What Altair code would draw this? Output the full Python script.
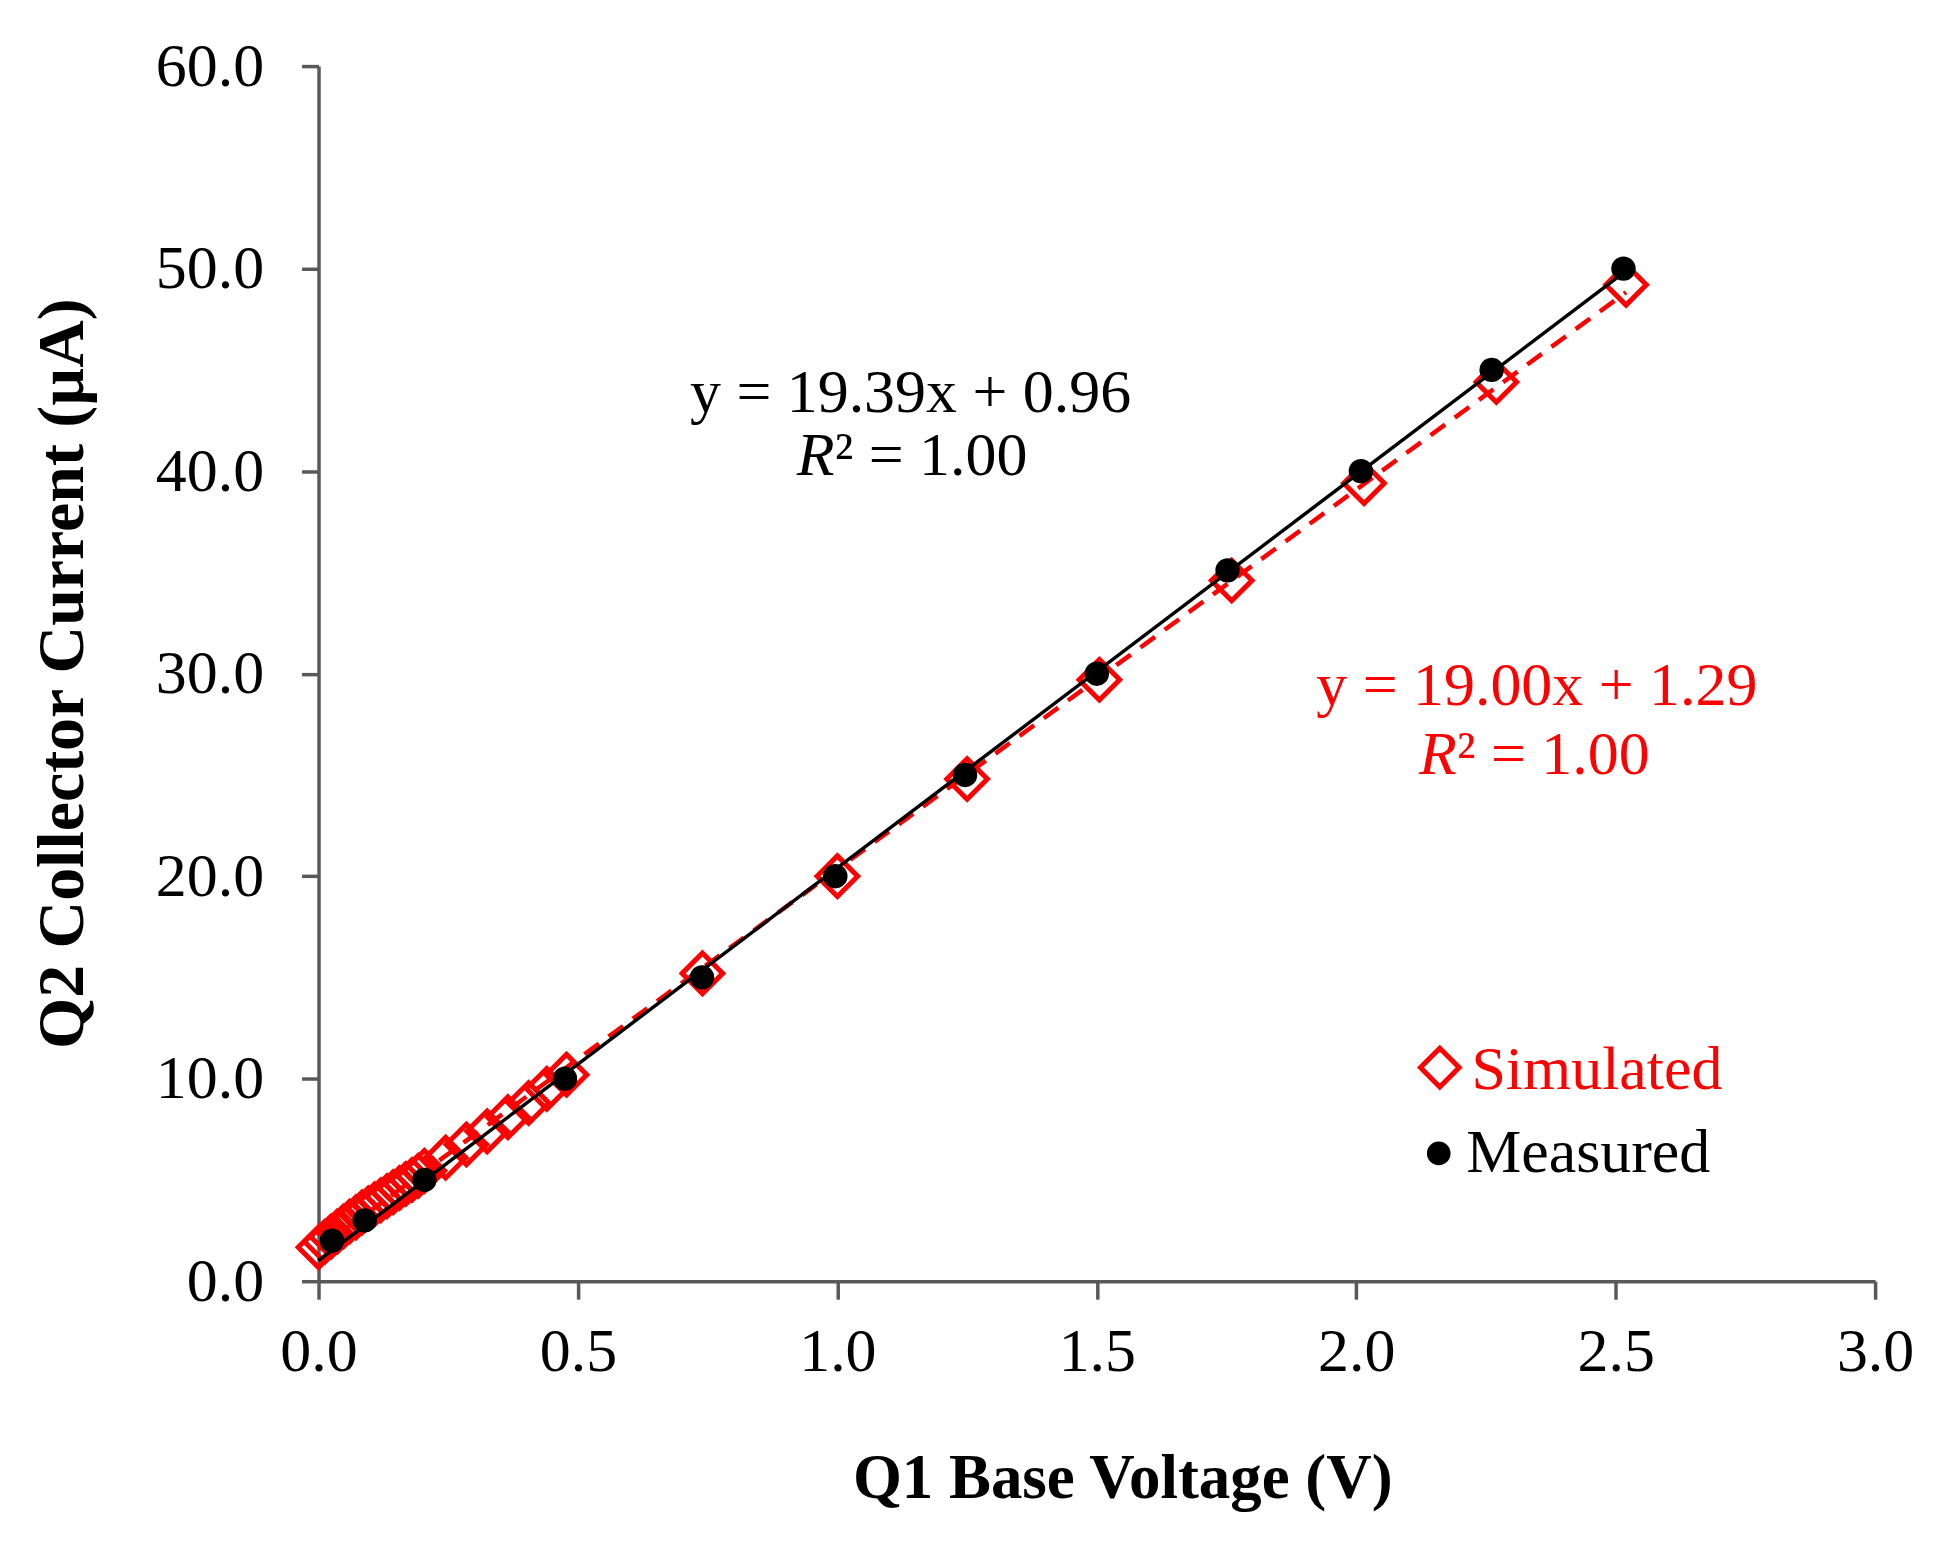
import altair as alt
import pandas as pd

# ---- data ----
meas_v = [0.026, 0.089, 0.204, 0.475, 0.739, 0.996, 1.246, 1.500, 1.752, 2.009, 2.261, 2.515]
meas_i = [2.0, 3.0, 5.0, 10.0, 15.0, 20.0, 25.0, 30.0, 35.1, 40.0, 45.0, 50.0]

sim_v = [0.000, 0.012, 0.024, 0.036, 0.048, 0.060, 0.072, 0.084, 0.096, 0.108,
         0.120, 0.132, 0.144, 0.156, 0.168, 0.180, 0.192, 0.204, 0.245, 0.285,
         0.325, 0.365, 0.405, 0.440, 0.478, 0.740, 1.000, 1.250, 1.505, 1.760,
         2.015, 2.270, 2.520]
sim_i = [1.68, 1.95, 2.20, 2.45, 2.70, 2.95, 3.15, 3.40, 3.60, 3.80,
         4.00, 4.20, 4.40, 4.60, 4.80, 5.00, 5.20, 5.45, 6.10, 6.75,
         7.40, 8.10, 8.80, 9.50, 10.20, 15.20, 20.00, 24.80, 29.70, 34.60,
         39.40, 44.40, 49.20]

x_ticks = [0.0, 0.5, 1.0, 1.5, 2.0, 2.5, 3.0]
y_ticks = [0, 10, 20, 30, 40, 50, 60]

meas_eq = ["y = 19.39x + 0.96"]
sim_eq = ["y = 19.00x + 1.29"]
r2_rest = ["\u00b2 = 1.00"]
legend_labels = ["Simulated", "Measured"]

FONT = "Liberation Serif"
RED = "#FF0000"
AX = "#595959"

meas = pd.DataFrame({"v": meas_v, "i": meas_i})
sim = pd.DataFrame({"v": sim_v, "i": sim_i})

xs = alt.Scale(domain=[0, 3], nice=False)
ys = alt.Scale(domain=[0, 60], nice=False)

xaxis = alt.Axis(values=x_ticks, format=".1f", title="Q1 Base Voltage (V)", grid=False,
                 domainColor=AX, domainWidth=3.5, tickColor=AX, tickWidth=3.5, tickSize=18,
                 labelFont=FONT, labelFontSize=62, labelColor="#000", labelPadding=22,
                 labelFlush=False, labelOverlap=False,
                 titleFont=FONT, titleFontSize=63, titleFontWeight="bold", titleColor="#000",
                 titleX=805, titleY=217, titleBaseline="alphabetic", titleAlign="center")
yaxis = alt.Axis(values=y_ticks, format=".1f", title="Q2 Collector Current (\u00b5A)", grid=False,
                 domainColor=AX, domainWidth=3.5, tickColor=AX, tickWidth=3.5, tickSize=17,
                 labelFont=FONT, labelFontSize=62, labelColor="#000", labelPadding=38,
                 labelFlush=False, labelOverlap=False,
                 titleFont=FONT, titleFontSize=66, titleFontWeight="bold", titleColor="#000",
                 titleX=-256, titleY=608, titleAngle=270, titleBaseline="middle", titleAlign="center")

X = alt.X("v:Q", scale=xs, axis=xaxis)
Y = alt.Y("i:Q", scale=ys, axis=yaxis)

sim_pts = alt.Chart(sim).mark_point(shape="diamond", filled=False, color=RED,
                                     strokeWidth=5, size=1650, opacity=1).encode(x=X, y=Y)
sim_fit = alt.Chart(sim).transform_regression("v", "i", extent=[0, 2.52]).mark_line(
    color=RED, strokeWidth=4.5, strokeDash=[18, 12]).encode(x=X, y=Y)
meas_fit = alt.Chart(meas).transform_regression("v", "i", extent=[0, 2.515]).mark_line(
    color="#000", strokeWidth=3.5).encode(x=X, y=Y)
meas_pts = alt.Chart(meas).mark_circle(color="#000", size=600, opacity=1).encode(x=X, y=Y)

def txt(df, **kw):
    base = dict(font=FONT, fontSize=62, baseline="alphabetic")
    base.update(kw)
    return alt.Chart(df).mark_text(**base).encode(x=X, y=Y, text="t:N")

ann = [
    txt(pd.DataFrame({"v": [1.141], "i": [42.9], "t": meas_eq}), align="center", color="#000"),
    txt(pd.DataFrame({"v": [1.141], "i": [39.8], "t": ["R"]}), align="right", dx=-76,
        fontStyle="italic", color="#000"),
    txt(pd.DataFrame({"v": [1.141], "i": [39.8], "t": r2_rest}), align="left", dx=-76, color="#000"),
    txt(pd.DataFrame({"v": [2.348], "i": [28.45], "t": sim_eq}), align="center", color=RED),
    txt(pd.DataFrame({"v": [2.348], "i": [25.05], "t": ["R"]}), align="right", dx=-80,
        fontStyle="italic", color=RED),
    txt(pd.DataFrame({"v": [2.348], "i": [25.05], "t": r2_rest}), align="left", dx=-80, color=RED),
]

# legend built from marks
leg_sym = alt.Chart(pd.DataFrame({"v": [2.161], "i": [10.55]})).mark_point(
    shape="diamond", filled=False, color=RED, strokeWidth=5, size=1500, opacity=1).encode(x=X, y=Y)
leg_dot = alt.Chart(pd.DataFrame({"v": [2.159], "i": [6.31]})).mark_circle(
    color="#000", size=560, opacity=1).encode(x=X, y=Y)
leg_t1 = txt(pd.DataFrame({"v": [2.222], "i": [9.5], "t": [legend_labels[0]]}), align="left", color=RED)
leg_t2 = txt(pd.DataFrame({"v": [2.212], "i": [5.37], "t": [legend_labels[1]]}), align="left", color="#000")

chart = alt.layer(sim_pts, sim_fit, meas_fit, meas_pts, *ann, leg_sym, leg_dot, leg_t1, leg_t2).properties(
    width=1559, height=1217,
    autosize=alt.AutoSizeParams(type="none"),
    padding={"left": 311, "top": 57, "right": 70, "bottom": 260},
    background="white",
).configure_view(stroke=None)

chart.save("out.html", embed_options={"renderer": "svg", "actions": False})
